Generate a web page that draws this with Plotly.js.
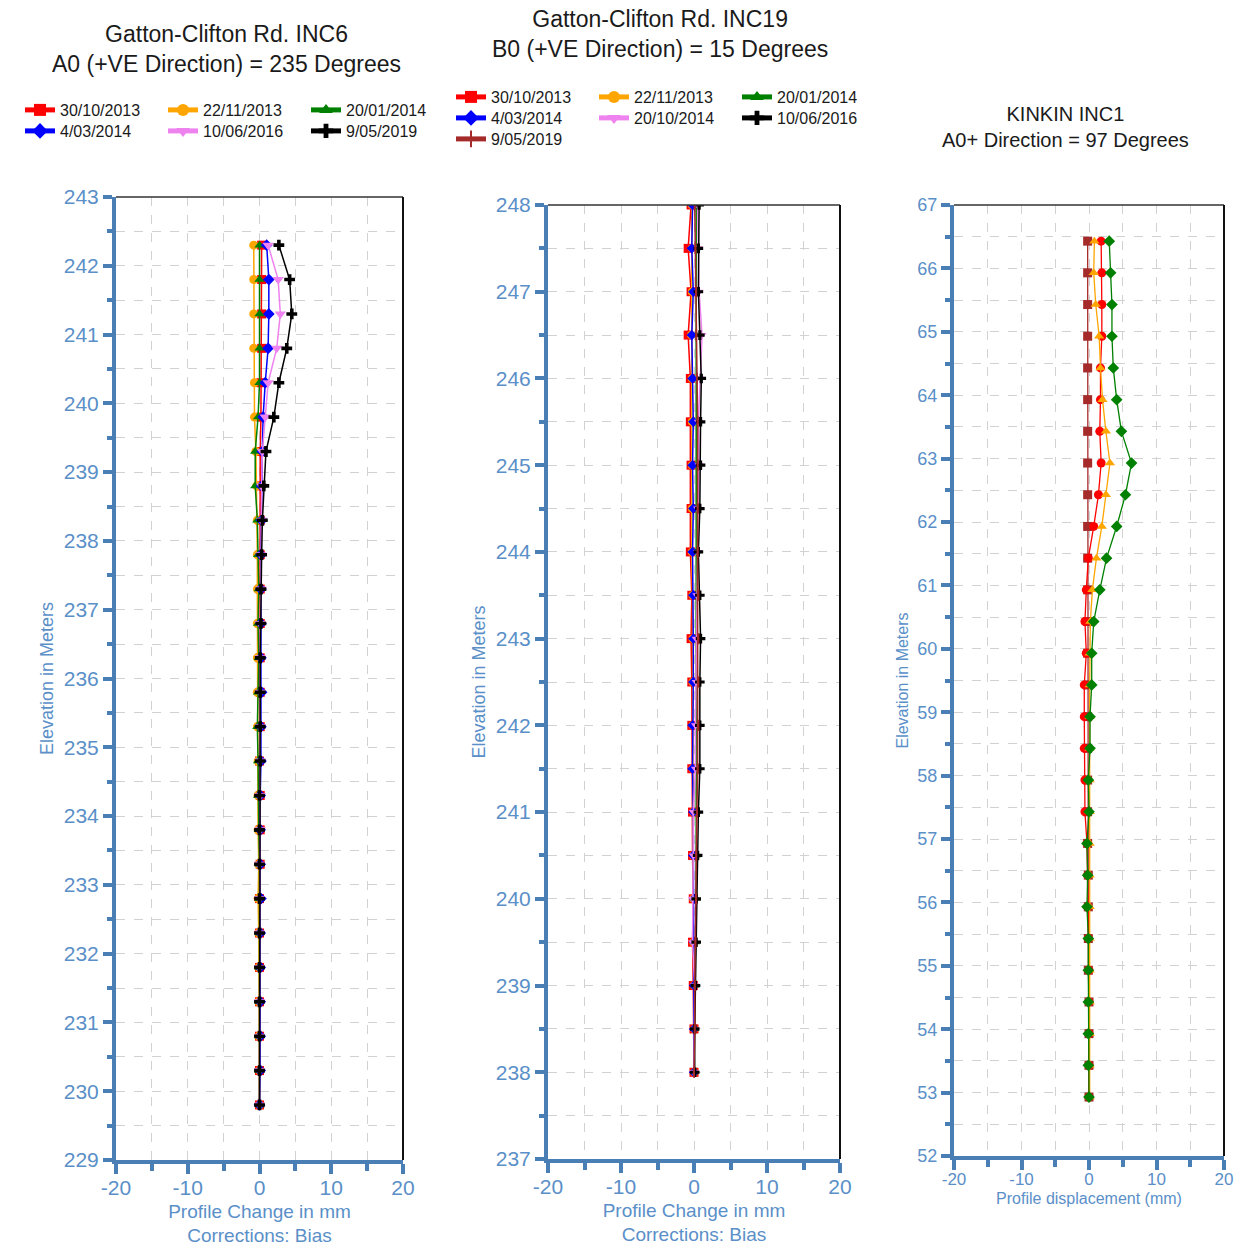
<!DOCTYPE html>
<html>
<head>
<meta charset="utf-8">
<script src="https://cdn.plot.ly/plotly-3.0.1.min.js"></script>
<style>html,body{margin:0;padding:0;background:#fff;}#chart{width:1243px;height:1253px;}</style>
</head>
<body>
<div id="chart"></div>
<script>
// ---------- Panel 1: Gatton-Clifton Rd. INC6 ----------
const p1Elev = [242.3,241.8,241.3,240.8,240.3,239.8,239.3,238.8,238.3,237.8,237.3,236.8,236.3,235.8,235.3,234.8,234.3,233.8,233.3,232.8,232.3,231.8,231.3,230.8,230.3,229.8];
const p1Names = ['30/10/2013','22/11/2013','20/01/2014','4/03/2014','10/06/2016','9/05/2019'];
const p1_30_10_2013 = [0.3,0.3,0.3,0.3,0.2,0.2,0.1,0.1,0.1,0.1,0.1,0.1,0.1,0.1,0.1,0.0,0.1,0.1,0.1,0.0,0.0,0.0,0.0,0.0,0.0,0.0];
const p1_22_11_2013 = [-0.8,-0.8,-0.8,-0.8,-0.7,-0.7,-0.5,-0.4,-0.3,-0.3,-0.3,-0.3,-0.3,-0.3,-0.3,-0.2,-0.2,-0.2,-0.1,-0.2,-0.1,-0.1,-0.1,-0.1,0.0,0.0];
const p1_20_01_2014 = [0.0,0.0,0.0,0.0,0.0,-0.2,-0.6,-0.6,-0.3,-0.2,-0.1,-0.2,-0.1,-0.2,-0.3,-0.2,-0.2,-0.1,0.0,0.0,0.0,0.0,0.0,0.0,0.0,0.0];
const p1_04_03_2014 = [1.0,1.3,1.3,1.2,0.8,0.5,0.4,0.3,0.3,0.2,0.2,0.2,0.2,0.3,0.2,0.2,0.1,0.1,0.1,0.2,0.1,0.1,0.1,0.1,0.1,0.0];
const p1_10_06_2016 = [1.2,2.6,2.9,2.4,1.2,0.8,0.4,0.3,0.3,0.2,0.2,0.1,0.1,0.1,0.1,0.1,0.1,0.1,0.0,0.0,0.0,0.0,0.0,0.0,0.0,0.0];
const p1_09_05_2019 = [2.7,4.2,4.5,3.8,2.7,2.0,0.9,0.6,0.4,0.3,0.2,0.2,0.1,0.1,0.1,0.1,0.0,0.0,0.0,0.0,0.0,0.0,0.0,0.0,0.0,0.0];

// ---------- Panel 2: Gatton-Clifton Rd. INC19 ----------
const p2Elev = [248,247.5,247,246.5,246,245.5,245,244.5,244,243.5,243,242.5,242,241.5,241,240.5,240,239.5,239,238.5,238];
const p2Names = ['30/10/2013','22/11/2013','20/01/2014','4/03/2014','20/10/2014','10/06/2016','9/05/2019'];
const p2_30_10_2013 = [-0.4,-0.8,-0.4,-0.8,-0.5,-0.5,-0.4,-0.4,-0.5,-0.3,-0.4,-0.3,-0.3,-0.3,-0.2,-0.2,-0.1,-0.2,-0.1,0.0,0.0];
const p2_22_11_2013 = [-0.3,-0.3,-0.3,-0.4,-0.3,-0.3,-0.3,-0.3,-0.3,-0.2,-0.2,-0.2,-0.2,-0.2,-0.1,-0.1,-0.1,-0.1,0.0,0.0,0.0];
const p2_20_01_2014 = [0.3,0.3,0.3,0.3,0.4,0.4,0.4,0.3,0.3,0.3,0.3,0.3,0.3,0.3,0.3,0.3,0.3,0.2,0.1,0.1,0.0];
const p2_04_03_2014 = [-0.2,-0.3,-0.1,-0.3,-0.2,-0.1,-0.2,-0.1,-0.2,-0.1,-0.1,-0.1,-0.2,-0.2,-0.1,-0.1,0.0,0.0,0.0,0.0,0.0];
const p2_20_10_2014 = [0.5,0.6,0.7,1.1,0.8,0.6,0.7,0.5,0.5,0.4,0.3,0.3,0.2,0.2,-0.1,-0.1,-0.2,-0.2,0.1,0.1,0.0];
const p2_10_06_2016 = [0.7,0.6,0.6,0.8,1.0,0.9,0.9,0.8,0.6,0.8,0.9,0.8,0.8,0.8,0.6,0.5,0.3,0.3,0.2,0.1,0.1];
const p2_09_05_2019 = [0.1,0.2,0.3,0.3,0.4,0.5,0.5,0.5,0.5,0.6,0.6,0.6,0.6,0.5,0.4,0.3,0.3,0.2,0.1,0.1,0.0];

// ---------- Panel 3: KINKIN INC1 ----------
const p3Elev = [66.43,65.93,65.43,64.93,64.43,63.93,63.43,62.93,62.43,61.93,61.43,60.93,60.43,59.93,59.43,58.93,58.43,57.93,57.43,56.93,56.43,55.93,55.43,54.93,54.43,53.93,53.43,52.93];
const p3Brown  = [-0.2,-0.2,-0.2,-0.2,-0.2,-0.2,-0.2,-0.2,-0.2,-0.2,-0.2,-0.2,-0.2,-0.2,-0.2,-0.2,-0.2,-0.2,-0.2,-0.2,-0.1,-0.1,-0.1,-0.1,0.0,0.0,0.0,0.0];
const p3Red    = [1.8,1.9,1.9,1.9,1.7,1.7,1.6,1.8,1.4,0.7,-0.1,-0.4,-0.6,-0.4,-0.7,-0.7,-0.7,-0.6,-0.6,-0.3,-0.2,-0.2,-0.1,0.0,0.0,0.0,0.0,0.0];
const p3Orange = [0.8,0.7,1.0,1.5,1.7,2.0,2.5,3.1,2.5,1.9,1.1,0.5,0.2,0.1,0.1,0.1,0.1,0.1,0.1,0.1,0.1,0.1,0.1,0.1,0.1,0.1,0.1,0.1];
const p3Green  = [3.0,3.2,3.4,3.4,3.6,4.1,4.8,6.3,5.4,4.1,2.6,1.6,0.7,0.4,0.4,0.15,0.15,-0.1,0.0,-0.3,-0.2,-0.3,-0.1,-0.1,-0.1,-0.1,-0.1,0.0];

// x tick labels (plain hyphen minus as in the original)
const xTickVals = [-20,-10,0,10,20];
const xTickText = ['-20','-10','0','10','20'];

// ---------- styling ----------
const FONT = 'Liberation Sans, Arial, sans-serif';
const AX = '#4a7fb5';
const TC = '#5a8fc8';
const GRID = '#d2d2d2';

const styles = {
  red:    {color:'#ff0000', symbol:'square'},
  orange: {color:'#ffa500', symbol:'circle'},
  green:  {color:'#008000', symbol:'triangle-up'},
  blue:   {color:'#0000ff', symbol:'diamond'},
  violet: {color:'#ee82ee', symbol:'triangle-down'},
  black:  {color:'#000000', symbol:'cross'},
  brown:  {color:'#a52a2a', symbol:'line-ns-open'}
};

function tr(name, x, y, st, xa, ya, legend, size) {
  return {
    type:'scatter', mode:'lines+markers', name:name, x:x, y:y,
    xaxis:xa, yaxis:ya, legend:legend, showlegend: !!legend,
    line:{color:st.color, width:1.5},
    marker:{color:st.color, symbol:st.symbol, size:size,
            line:{color:st.color, width: st.symbol==='line-ns-open' ? 2 : 0}},
    hoverinfo:'x+y'
  };
}

const data = [
  tr(p1Names[0], p1_30_10_2013, p1Elev, styles.red,    'x', 'y', 'legend', 9),
  tr(p1Names[1], p1_22_11_2013, p1Elev, styles.orange, 'x', 'y', 'legend', 9),
  tr(p1Names[2], p1_20_01_2014, p1Elev, styles.green,  'x', 'y', 'legend', 9),
  tr(p1Names[3], p1_04_03_2014, p1Elev, styles.blue,   'x', 'y', 'legend2', 9),
  tr(p1Names[4], p1_10_06_2016, p1Elev, styles.violet, 'x', 'y', 'legend2', 10),
  tr(p1Names[5], p1_09_05_2019, p1Elev, styles.black,  'x', 'y', 'legend2', 9),

  tr(p2Names[0], p2_30_10_2013, p2Elev, styles.red,    'x2', 'y2', 'legend3', 9),
  tr(p2Names[1], p2_22_11_2013, p2Elev, styles.orange, 'x2', 'y2', 'legend3', 8),
  tr(p2Names[2], p2_20_01_2014, p2Elev, styles.green,  'x2', 'y2', 'legend3', 8),
  tr(p2Names[3], p2_04_03_2014, p2Elev, styles.blue,   'x2', 'y2', 'legend4', 8),
  tr(p2Names[4], p2_20_10_2014, p2Elev, styles.violet, 'x2', 'y2', 'legend4', 8),
  tr(p2Names[5], p2_10_06_2016, p2Elev, styles.black,  'x2', 'y2', 'legend4', 8),
  tr(p2Names[6], p2_09_05_2019, p2Elev, styles.brown,  'x2', 'y2', 'legend5', 8),

  tr('KINKIN 1', p3Brown,  p3Elev, {color:'#a52a2a', symbol:'square'},  'x3', 'y3', null, 9),
  tr('KINKIN 2', p3Red,    p3Elev, {color:'#ff0000', symbol:'circle'},  'x3', 'y3', null, 9),
  tr('KINKIN 3', p3Orange, p3Elev, {color:'#ffa500', symbol:'triangle-up'}, 'x3', 'y3', null, 9),
  tr('KINKIN 4', p3Green,  p3Elev, {color:'#008000', symbol:'diamond'}, 'x3', 'y3', null, 9)
];
for (let i = 13; i < 17; i++) { data[i].line.width = 1.3; }

function xAxis(domain, anchor, titleText, fs, tfs, lblOff, tStand) {
  return {
    domain:domain, anchor:anchor, range:[-20,20],
    tickmode:'array', tickvals:xTickVals, ticktext:xTickText,
    ticks:'outside', ticklen:10, tickwidth:4, tickcolor:AX,
    ticklabelstandoff:lblOff,
    showline:true, linecolor:AX, linewidth:4,
    showgrid:true, gridcolor:GRID, griddash:'dash', gridwidth:1, zeroline:false,
    tickfont:{family:FONT, size:fs, color:TC},
    minor:{dtick:5, tick0:0, ticks:'outside', ticklen:7, tickwidth:4, tickcolor:AX,
           showgrid:true, gridcolor:GRID, griddash:'dash', gridwidth:1},
    title:{text:titleText, font:{family:FONT, size:tfs, color:TC}, standoff:tStand},
    fixedrange:true
  };
}
function yAxis(domain, anchor, range, fs, tfs) {
  return {
    domain:domain, anchor:anchor, range:range, dtick:1, tick0:0,
    ticks:'outside', ticklen:9, tickwidth:4, tickcolor:AX,
    showline:true, linecolor:AX, linewidth:4,
    showgrid:true, gridcolor:GRID, griddash:'dash', gridwidth:1, zeroline:false,
    tickfont:{family:FONT, size:fs, color:TC},
    minor:{dtick:0.5, ticks:'outside', ticklen:5, tickwidth:4, tickcolor:AX,
           showgrid:true, gridcolor:GRID, griddash:'dash', gridwidth:1},
    title:{text:'Elevation in Meters', font:{family:FONT, size:tfs, color:TC}, standoff:6},
    fixedrange:true
  };
}

const W = 1243, H = 1253;
const px = v => v / W;
const py = v => 1 - v / H;

function legendRow(x, y) {
  return {
    orientation:'h', x:px(x), y:py(y), xanchor:'left', yanchor:'middle',
    entrywidth:98, entrywidthmode:'pixels', itemsizing:'constant',
    font:{family:FONT, size:16, color:'#1a1a1a'},
    bgcolor:'rgba(0,0,0,0)', borderwidth:0, tracegroupgap:0
  };
}

function border(xr, yr) {
  return [
    {type:'line', xref:xr+' domain', yref:yr+' domain', x0:0, x1:1, y0:1, y1:1, line:{color:'#333', width:1.5}},
    {type:'line', xref:xr+' domain', yref:yr+' domain', x0:1, x1:1, y0:0, y1:1, line:{color:'#111', width:2}}
  ];
}

const layout = {
  width:W, height:H, margin:{l:0, r:0, t:0, b:0},
  paper_bgcolor:'#ffffff', plot_bgcolor:'#ffffff',
  font:{family:FONT},
  xaxis:  xAxis([px(116), px(403)], 'y',  'Profile Change in mm<br>Corrections: Bias', 21, 19, -4, 7),
  yaxis:  yAxis([1-1160/H, 1-197/H], 'x', [229,243], 21, 18),
  xaxis2: xAxis([px(548), px(840)], 'y2', 'Profile Change in mm<br>Corrections: Bias', 21, 19, -4, 7),
  yaxis2: yAxis([1-1159/H, 1-205/H], 'x2', [237,248], 21, 18),
  xaxis3: xAxis([px(954), px(1224)], 'y3', 'Profile displacement (mm)', 17, 16, -5, 5),
  yaxis3: yAxis([1-1156/H, 1-205/H], 'x3', [52,67], 18, 16),
  legend:  legendRow(20, 110),
  legend2: legendRow(20, 131),
  legend3: legendRow(451, 97),
  legend4: legendRow(451, 118),
  legend5: legendRow(451, 139),
  shapes: [].concat(border('x','y'), border('x2','y2'), border('x3','y3')),
  annotations: [
    {text:'Gatton-Clifton Rd. INC6<br>A0 (+VE Direction) = 235 Degrees', xref:'paper', yref:'paper',
     x:px(226), y:py(49), xanchor:'center', yanchor:'middle', showarrow:false,
     font:{family:FONT, size:23, color:'#1a1a1a'}},
    {text:'Gatton-Clifton Rd. INC19<br>B0 (+VE Direction) = 15 Degrees', xref:'paper', yref:'paper',
     x:px(660), y:py(34), xanchor:'center', yanchor:'middle', showarrow:false,
     font:{family:FONT, size:23, color:'#1a1a1a'}},
    {text:'KINKIN INC1<br>A0+ Direction = 97 Degrees', xref:'paper', yref:'paper',
     x:px(1065), y:py(126.5), xanchor:'center', yanchor:'middle', showarrow:false,
     font:{family:FONT, size:20, color:'#1a1a1a'}}
  ]
};

Plotly.newPlot('chart', data, layout, {displayModeBar:false, staticPlot:true});
</script>
</body>
</html>
